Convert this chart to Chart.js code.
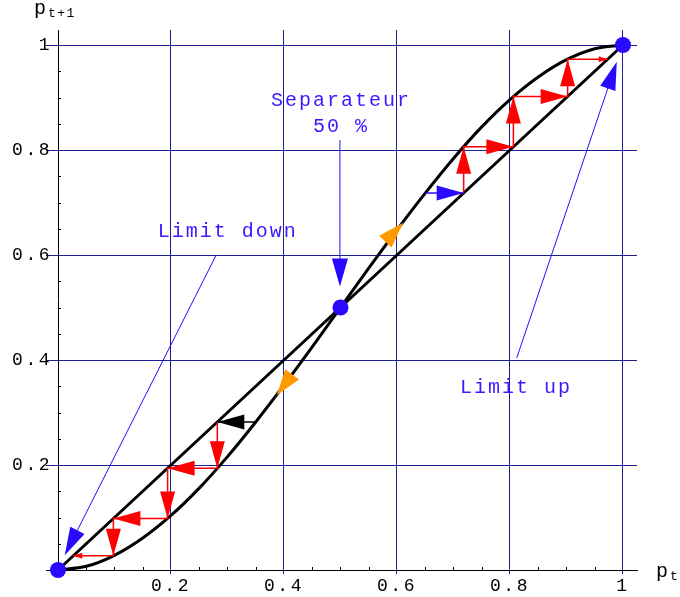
<!DOCTYPE html>
<html><head><meta charset="utf-8">
<script src="https://cdn.jsdelivr.net/npm/chart.js@4/dist/chart.umd.min.js"></script>
<style>html,body{margin:0;padding:0;background:#fff}#wrap{width:680px;height:597px}</style>
</head><body><div id="wrap"><canvas id="c" width="680" height="597"></canvas></div>
<script>
// ---- data ----
const curveP = [0,0.05,0.1,0.15,0.2,0.25,0.3,0.35,0.4,0.45,0.5,0.55,0.6,0.65,0.7,0.75,0.8,0.85,0.9,0.95,1];
const curveF = [0,0.007,0.028,0.061,0.104,0.156,0.216,0.282,0.352,0.425,0.5,0.575,0.648,0.718,0.784,0.844,0.896,0.939,0.972,0.993,1];
const diagP = [0, 1];
const lowIter = [0.35, 0.282, 0.194, 0.098, 0.027];
const upIter = [0.65, 0.718, 0.806, 0.902, 0.973];
const fixedP = [0, 0.5, 1];
const orangeTails = [[0.414, 0.372], [0.585, 0.632]];
const orangeTips = [[0.387, 0.333], [0.611, 0.6615]];
const xTicks = [0, 0.2, 0.4, 0.6, 0.8, 1];
const xTickLabels = ['', '0.2', '0.4', '0.6', '0.8', '1'];
const yTicks = [0, 0.2, 0.4, 0.6, 0.8, 1];
const yTickLabels = ['', '0.2', '0.4', '0.6', '0.8', '1'];
const minorTicks = [0.05,0.1,0.15,0.25,0.3,0.35,0.45,0.5,0.55,0.65,0.7,0.75,0.85,0.9,0.95];
const noteTexts = [['Separateur', '50 %'], ['Limit down'], ['Limit up']];
const noteTextAt = [[[0.499, 0.884], [0.499, 0.835]], [[0.2986, 0.635]], [[0.809, 0.3366]]];
const noteArrowFrom = [[0.499, 0.819], [0.28, 0.60], [0.812, 0.404]];
const noteArrowTo = [[0.499, 0.54], [0.012, 0.028], [0.989, 0.968]];

// ---- styles ----
const BLUE = '#2a0aff';
const TXTBLUE = '#3a1aff';
const GRID = '#1e1e96';
const RED = '#ff0000';
const ORANGE = '#ff9900';
const MONO = '"Liberation Mono", "DejaVu Sans Mono", monospace';

function stair(it) {
  const pts = [{x: it[0], y: it[1]}];
  for (let i = 1; i < it.length - 1; i++) {
    pts.push({x: it[i], y: it[i]});
    pts.push({x: it[i], y: it[i + 1]});
  }
  pts.push({x: it[it.length - 1], y: it[it.length - 1]});
  return pts;
}
const lowStair = stair(lowIter);
const upStair = stair(upIter);

function head(ctx, fx, fy, tx, ty, L, W, color) {
  const dx = tx - fx, dy = ty - fy, d = Math.hypot(dx, dy);
  const ux = dx / d, uy = dy / d;
  const bx = tx - ux * L, by = ty - uy * L;
  ctx.beginPath();
  ctx.moveTo(tx, ty);
  ctx.lineTo(bx - uy * W, by + ux * W);
  ctx.lineTo(bx + uy * W, by - ux * W);
  ctx.closePath();
  ctx.fillStyle = color;
  ctx.fill();
}

const decor = {
  id: 'decor',
  beforeDraw(chart) { chart.ctx.letterSpacing = '2.5px'; },
  beforeDatasetDraw(chart, args) {
    if (args.index !== 0) return;
    const ctx = chart.ctx, xs = chart.scales.x, ys = chart.scales.y;
    const X = v => xs.getPixelForValue(v), Y = v => ys.getPixelForValue(v);
    ctx.save();
    // cobweb heads
    [[lowStair, '#000'], [upStair, BLUE]].forEach(([pts, first]) => {
      for (let k = 0; k < pts.length - 1; k++) {
        const last = k === pts.length - 2;
        head(ctx, X(pts[k].x), Y(pts[k].y), X(pts[k + 1].x), Y(pts[k + 1].y),
          last ? 9 : 27, last ? 3 : 7.5, k === 0 ? first : RED);
      }
    });
    // orange heads along the curve
    for (let i = 0; i < orangeTips.length; i++) {
      head(ctx, X(orangeTails[i][0]), Y(orangeTails[i][1]), X(orangeTips[i][0]), Y(orangeTips[i][1]), 26, 8.5, ORANGE);
    }
    // annotation arrows
    for (let i = 0; i < noteArrowFrom.length; i++) {
      const fx = X(noteArrowFrom[i][0]), fy = Y(noteArrowFrom[i][1]);
      const tx = X(noteArrowTo[i][0]), ty = Y(noteArrowTo[i][1]);
      const d = Math.hypot(tx - fx, ty - fy);
      const ex = tx - (tx - fx) / d * 20, ey = ty - (ty - fy) / d * 20;
      ctx.beginPath(); ctx.moveTo(fx, fy); ctx.lineTo(ex, ey);
      ctx.strokeStyle = BLUE; ctx.lineWidth = 1; ctx.stroke();
      head(ctx, fx, fy, tx, ty, 28, 8, BLUE);
    }
    // annotation texts
    ctx.letterSpacing = '2px';
    ctx.font = '20px ' + MONO;
    ctx.fillStyle = TXTBLUE;
    ctx.textAlign = 'center';
    ctx.textBaseline = 'alphabetic';
    noteTexts.forEach((lines, i) => lines.forEach((t, j) => {
      ctx.fillText(t, X(noteTextAt[i][j][0]) + 1, Y(noteTextAt[i][j][1]));
    }));
    ctx.restore();
  },
  afterDraw(chart) {
    const ctx = chart.ctx, xs = chart.scales.x, ys = chart.scales.y;
    const a = chart.chartArea;
    ctx.save();
    ctx.letterSpacing = '0px';
    ctx.strokeStyle = '#000'; ctx.lineWidth = 1;
    ctx.beginPath();
    minorTicks.forEach(v => {
      const px = Math.round(xs.getPixelForValue(v)) + 0.5;
      ctx.moveTo(px, a.bottom); ctx.lineTo(px, a.bottom - 3);
      const py = Math.round(ys.getPixelForValue(v)) + 0.5;
      ctx.moveTo(a.left, py); ctx.lineTo(a.left + 3, py);
    });
    ctx.stroke();
    // axis titles
    ctx.fillStyle = '#000';
    ctx.textAlign = 'left'; ctx.textBaseline = 'alphabetic';
    ctx.font = '20px ' + MONO;
    ctx.fillText('p', 34, 14);
    ctx.letterSpacing = '1.5px';
    ctx.font = '13px ' + MONO;
    ctx.fillText('t+1', 48, 17);
    ctx.letterSpacing = '0px';
    ctx.font = '20px ' + MONO;
    ctx.fillText('p', 656, 577);
    ctx.font = '13px ' + MONO;
    ctx.fillText('t', 670, 580);
    ctx.restore();
    ctx.letterSpacing = '0px';
  }
};

const gridColor = c => (c.tick && c.tick.value === 0) ? 'rgba(0,0,0,0)' : GRID;
const tickColor = c => (c.tick && c.tick.value === 0) ? '#000' : GRID;

new Chart(document.getElementById('c'), {
  type: 'scatter',
  data: {
    datasets: [
      {label: 'fixed points', data: fixedP.map(p => ({x: p, y: p})), pointRadius: 8,
        pointBackgroundColor: BLUE, pointBorderWidth: 0, showLine: false, order: 0, clip: false},
      {label: 'cobweb down', data: lowStair, showLine: true, pointRadius: 0, borderWidth: 1.5,
        borderColor: RED, segment: {borderColor: c => c.p0DataIndex === 0 ? '#000' : RED},
        order: 1, clip: false},
      {label: 'cobweb up', data: upStair, showLine: true, pointRadius: 0, borderWidth: 1.5,
        borderColor: RED, segment: {borderColor: c => c.p0DataIndex === 0 ? BLUE : RED},
        order: 1, clip: false},
      {label: 'map', data: curveP.map((p, i) => ({x: p, y: curveF[i]})), showLine: true,
        pointRadius: 0, borderColor: '#000', borderWidth: 3, cubicInterpolationMode: 'monotone',
        order: 2, clip: false},
      {label: 'diagonal', data: diagP.map(p => ({x: p, y: p})), showLine: true,
        pointRadius: 0, borderColor: '#000', borderWidth: 3, order: 2, clip: false}
    ]
  },
  options: {
    animation: false, responsive: false, events: [],
    devicePixelRatio: 1,
    layout: {padding: {top: 30, right: 43, left: 0, bottom: 0}},
    plugins: {legend: {display: false}, tooltip: {enabled: false}},
    scales: {
      x: {
        type: 'linear', min: 0, max: 1.0248,
        afterBuildTicks: s => { s.ticks = xTicks.map(v => ({value: v})); },
        afterFit: s => { s.height = 27; },
        ticks: {autoSkip: false, maxRotation: 0, padding: 1, color: '#000',
          callback: (v, i) => xTickLabels[i], font: {family: MONO, size: 18}},
        grid: {color: gridColor, tickColor: tickColor, tickLength: 4, lineWidth: 1},
        border: {color: '#000', width: 1}
      },
      y: {
        type: 'linear', min: 0, max: 1.0286,
        afterBuildTicks: s => { s.ticks = yTicks.map(v => ({value: v})); },
        afterFit: s => { s.width = 58; },
        ticks: {autoSkip: false, padding: -6, color: '#000',
          callback: (v, i) => yTickLabels[i], font: {family: MONO, size: 18}},
        grid: {color: gridColor, tickColor: tickColor, tickLength: 12, lineWidth: 1},
        border: {color: '#000', width: 1}
      }
    }
  },
  plugins: [decor]
});
</script>
</body></html>
